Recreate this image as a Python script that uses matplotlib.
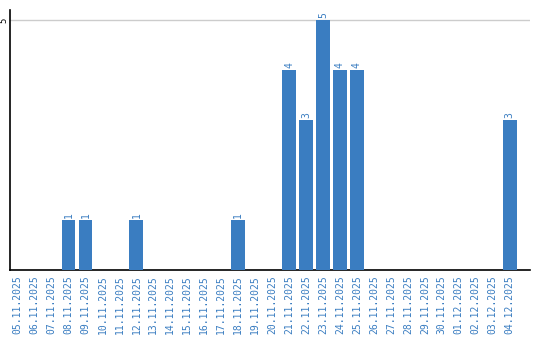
import matplotlib
matplotlib.use("Agg")
import matplotlib.pyplot as plt

dates = ["05.11.2025", "06.11.2025", "07.11.2025", "08.11.2025", "09.11.2025",
         "10.11.2025", "11.11.2025", "12.11.2025", "13.11.2025", "14.11.2025",
         "15.11.2025", "16.11.2025", "17.11.2025", "18.11.2025", "19.11.2025",
         "20.11.2025", "21.11.2025", "22.11.2025", "23.11.2025", "24.11.2025",
         "25.11.2025", "26.11.2025", "27.11.2025", "28.11.2025", "29.11.2025",
         "30.11.2025", "01.12.2025", "02.12.2025", "03.12.2025", "04.12.2025"]
counts = [0, 0, 0, 1, 1, 0, 0, 1, 0, 0, 0, 0, 0, 1, 0, 0, 4, 3, 5, 4, 4,
          0, 0, 0, 0, 0, 0, 0, 0, 3]

blue = "#3a7dc1"

fig = plt.figure(figsize=(5.4, 3.4), dpi=100)
ax = fig.add_axes([0.0185, 0.206, 0.963, 0.765])

x = range(len(dates))
ax.bar(x, counts, width=0.82, color=blue, zorder=3)
for i, v in zip(x, counts):
    if v > 0:
        ax.text(i, v + 0.04, str(v), rotation=90, ha="center", va="bottom",
                fontsize=7, color=blue, family="DejaVu Sans Mono")

ax.set_xlim(-0.45, 30.2)
ax.set_ylim(0, 5.2)
ax.set_yticks([5])
ax.set_yticklabels(["5"], rotation=90, va="center", fontsize=6.5,
                   family="DejaVu Sans Mono")
ax.tick_params(axis="y", length=0, pad=1)
ax.yaxis.grid(True, color="#cccccc", linewidth=1, zorder=0)

ax.set_xticks(list(x))
ax.set_xticklabels(dates, rotation=90, fontsize=7, color=blue,
                   family="DejaVu Sans Mono")
ax.tick_params(axis="x", length=0, pad=4)

ax.spines["top"].set_visible(False)
ax.spines["right"].set_visible(False)
ax.spines["left"].set_linewidth(1.2)
ax.spines["bottom"].set_linewidth(1.2)

fig.savefig("out.png", dpi=100)
